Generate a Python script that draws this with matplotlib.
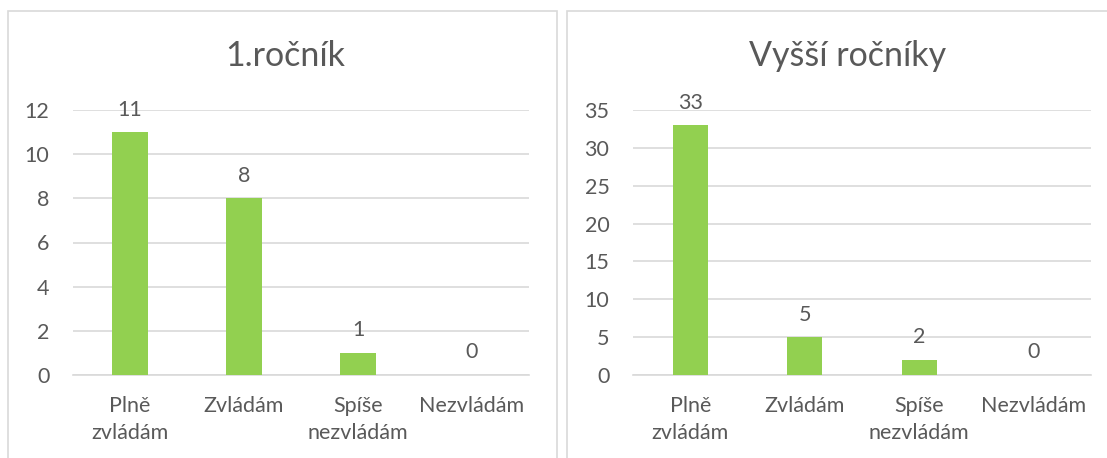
import matplotlib.pyplot as plt
from matplotlib.patches import Rectangle

categories = ["Plně\nzvládám", "Zvládám", "Spíše\nnezvládám", "Nezvládám"]
first_year = [11, 8, 1, 0]
higher_years = [33, 5, 2, 0]
titles = ["1.ročník", "Vyšší ročníky"]

plt.rcParams["font.family"] = ["Lato", "DejaVu Sans"]

bar_color = "#92d050"
grid_color = "#d9d9d9"
text_color = "#595959"

W, H = 1107, 458
fig = plt.figure(figsize=(W / 100, H / 100), dpi=100)


def px(x0, y_top, w, h):
    return [x0 / W, 1 - (y_top + h) / H, w / W, h / H]


# panel frames
for x0, w in [(8, 549), (567, 560)]:
    fig.add_artist(Rectangle((x0 / W, -0.1), w / W, 1.1 - 11 / H,
                             transform=fig.transFigure, fill=False,
                             edgecolor=grid_color, linewidth=1.2))

panels = [
    (px(73, 110, 456, 265), first_year, 12, 2, 285),
    (px(633, 110, 458, 265), higher_years, 35, 5, 848),
]

for (rect, values, ymax, step, title_x), title in zip(panels, titles):
    ax = fig.add_axes(rect)
    x = range(len(categories))
    bars = ax.bar(x, values, width=0.31, color=bar_color, zorder=3)
    ax.bar_label(bars, padding=9, fontsize=15.5, color=text_color)
    ax.set_ylim(0, ymax)
    ax.set_xlim(-0.5, len(categories) - 0.5)
    ax.set_yticks(range(0, ymax + 1, step))
    ax.set_xticks(list(x))
    ax.set_xticklabels(categories, linespacing=1.42)
    ax.tick_params(axis="both", length=0, labelsize=15.5, labelcolor=text_color)
    ax.tick_params(axis="y", pad=17)
    ax.tick_params(axis="x", pad=15)
    ax.grid(axis="y", color=grid_color, linewidth=1.2, zorder=0)
    for side in ["top", "right", "left"]:
        ax.spines[side].set_visible(False)
    ax.spines["bottom"].set_color(grid_color)
    ax.spines["bottom"].set_linewidth(1.2)
    fig.text(title_x / W, 1 - 56 / H, title, ha="center", va="center",
             fontsize=24.5, color=text_color)

fig.savefig("out.png", dpi=100, facecolor="white")
